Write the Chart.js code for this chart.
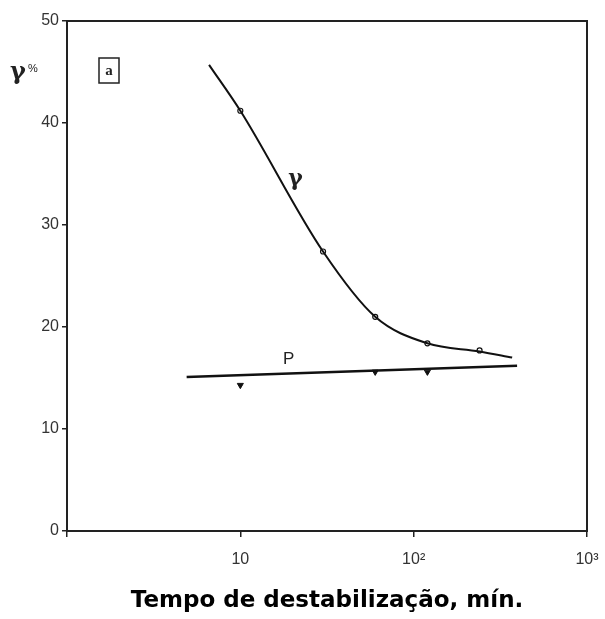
<!DOCTYPE html>
<html>
<head>
<meta charset="utf-8">
<script src="https://cdn.jsdelivr.net/npm/chart.js@4"></script>
<style>
  html, body { margin: 0; padding: 0; background: #fff; }
  #wrap { width: 605px; height: 619px; }
</style>
</head>
<body>
<div id="wrap"><canvas id="chart"></canvas></div>
<script>
// values
const gammaCurveX = [6.6, 10, 30, 60, 120, 240, 370];
const gammaCurveY = [45.7, 41.2, 27.4, 21.0, 18.4, 17.6, 17.0];
const gammaPointsX = [10, 30, 60, 120, 240];
const gammaPointsY = [41.2, 27.4, 21.0, 18.4, 17.7];
const pLineX = [4.9, 395];
const pLineY = [15.1, 16.2];
const pPointsX = [10, 60, 120];
const pPointsY = [14.3, 15.6, 15.6];
const xTicks = [1, 10, 100, 1000];
const xTickLabels = ['', '10', '10²', '10³'];
const yTicks = [0, 10, 20, 30, 40, 50];

const toXY = (xs, ys) => xs.map((x, i) => ({ x: x, y: ys[i] }));

// frame, panel letter, axis label and curve labels
const extras = {
    id: 'extras',
    afterDraw(chart) {
        const ctx = chart.ctx;
        const a = chart.chartArea;
        const xs = chart.scales.x;
        const ys = chart.scales.y;
        ctx.save();
        ctx.strokeStyle = '#222';
        ctx.lineWidth = 2;
        ctx.strokeRect(a.left, a.top, a.right - a.left, a.bottom - a.top);

        // "a" box
        ctx.lineWidth = 1.5;
        ctx.strokeRect(a.left + 32, a.top + 37, 20, 25);
        ctx.fillStyle = '#222';
        ctx.font = 'bold 15px "Liberation Serif"';
        ctx.textAlign = 'center';
        ctx.textBaseline = 'middle';
        ctx.fillText('a', a.left + 42, a.top + 50);

        // y title
        ctx.font = 'bold 24px "DejaVu Serif"';
        ctx.fillText('γ', 18, 73);
        ctx.font = '11px "Liberation Sans"';
        ctx.fillText('%', 33, 69);

        // curve labels
        ctx.font = 'bold 22px "DejaVu Serif"';
        ctx.fillText('γ', xs.getPixelForValue(20) + 3, ys.getPixelForValue(34.5));
        ctx.font = '17px "Liberation Sans"';
        ctx.fillText('P', xs.getPixelForValue(19), ys.getPixelForValue(16.8));
        ctx.restore();
    }
};

new Chart(document.getElementById('chart'), {
    type: 'line',
    data: {
        datasets: [
            {
                label: 'gamma curve',
                data: toXY(gammaCurveX, gammaCurveY),
                borderColor: '#111',
                borderWidth: 2,
                pointRadius: 0,
                cubicInterpolationMode: 'monotone',
            },
            {
                label: 'gamma points',
                data: toXY(gammaPointsX, gammaPointsY),
                showLine: false,
                pointStyle: 'circle',
                pointRadius: 2.5,
                pointBackgroundColor: '#fff',
                pointBorderColor: '#111',
                pointBorderWidth: 1.2,
            },
            {
                label: 'P line',
                data: toXY(pLineX, pLineY),
                borderColor: '#111',
                borderWidth: 2.6,
                pointRadius: 0,
            },
            {
                label: 'P points',
                data: toXY(pPointsX, pPointsY),
                showLine: false,
                pointStyle: 'triangle',
                rotation: 180,
                pointRadius: 3.5,
                pointBackgroundColor: '#111',
                pointBorderColor: '#111',
            },
        ],
    },
    options: {
        responsive: true,
        maintainAspectRatio: false,
        animation: false,
        layout: { padding: { top: 21, right: 18, left: 0, bottom: 0 } },
        plugins: { legend: { display: false }, tooltip: { enabled: false } },
        scales: {
            x: {
                type: 'logarithmic',
                min: 1,
                max: 1000,
                afterBuildTicks: (scale) => {
                    scale.ticks = xTicks.map((v) => ({ value: v }));
                },
                afterFit: (scale) => {
                    scale.height = 88;
                    scale.paddingLeft = 0;
                    scale.paddingRight = 0;
                },
                grid: { drawOnChartArea: false, tickLength: 6, color: '#222', lineWidth: 1.5 },
                border: { display: false },
                ticks: {
                    autoSkip: false,
                    maxRotation: 0,
                    color: '#333',
                    font: { family: 'Liberation Sans', size: 16 },
                    padding: 13,
                    callback: (v) => xTickLabels[xTicks.indexOf(v)],
                },
                title: {
                    display: true,
                    text: 'Tempo de destabilização, mín.',
                    color: '#000',
                    font: { family: 'DejaVu Sans', size: 23, weight: 'bold' },
                    padding: { top: 6, bottom: 4 },
                },
            },
            y: {
                min: 0,
                max: 50,
                afterBuildTicks: (scale) => {
                    scale.ticks = yTicks.map((v) => ({ value: v }));
                },
                afterFit: (scale) => {
                    scale.width = 67;
                    scale.paddingTop = 0;
                    scale.paddingBottom = 0;
                },
                grid: { drawOnChartArea: false, tickLength: 5, color: '#222', lineWidth: 1.5 },
                border: { display: false },
                ticks: {
                    color: '#333',
                    font: { family: 'Liberation Sans', size: 16 },
                    padding: 3,
                },
            },
        },
    },
    plugins: [extras],
});
</script>
</body>
</html>
